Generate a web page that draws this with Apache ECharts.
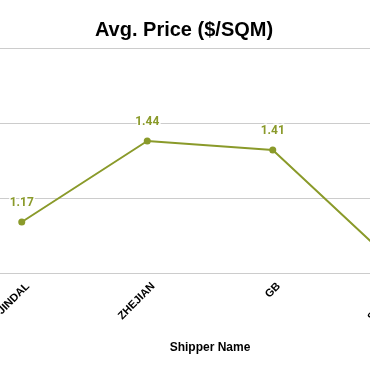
<!DOCTYPE html>
<html><head><meta charset="utf-8">
<script src="https://cdn.jsdelivr.net/npm/echarts@6/dist/echarts.min.js"></script>
<style>html,body{margin:0;padding:0;overflow:hidden;background:#fff;width:370px;height:371px;position:relative}
#c{position:absolute;left:-100px;top:0;width:568px;height:371px}</style>
</head><body><div id="c"></div>
<script>
const categories = ["JINDAL", "ZHEJIAN", "GB", "SUNRISE"];
const avgPrice = [1.17, 1.44, 1.41, 1.02];
const yTicks = [1.0, 1.25, 1.5, 1.75];

const chart = echarts.init(document.getElementById('c'), null, {renderer: 'canvas'});
chart.setOption({
  animation: false,
  title: {
    text: 'Avg. Price ($/SQM)', left: 'center', top: 15,
    textStyle: {fontFamily: 'Liberation Sans, Arial, sans-serif', fontWeight: 'bold', fontSize: 20, color: '#000'}
  },
  grid: {left: 59, right: 7, top: 48, bottom: 98, containLabel: false},
  xAxis: {
    type: 'category', data: categories, boundaryGap: true,
    name: 'Shipper Name', nameLocation: 'middle', nameGap: 69,
    nameTextStyle: {fontFamily: 'Liberation Sans, Arial, sans-serif', fontWeight: 'bold', fontSize: 12, color: '#000'},
    axisLine: {show: true, lineStyle: {color: '#ccc'}},
    axisTick: {show: false},
    axisLabel: {rotate: 45, margin: 5.5, verticalAlign: 'top', lineHeight: 17, fontFamily: 'Liberation Sans, Arial, sans-serif', fontWeight: 'bold', fontSize: 11, color: '#000'}
  },
  yAxis: {
    type: 'value', min: yTicks[0], max: yTicks[yTicks.length - 1], interval: 0.25,
    axisLabel: {show: false}, axisLine: {show: false}, axisTick: {show: false},
    splitLine: {lineStyle: {color: '#ccc', width: 1}}
  },
  series: [{
    type: 'line', data: avgPrice,
    symbol: 'circle', symbolSize: 7,
    lineStyle: {color: '#8a9a2a', width: 2},
    itemStyle: {color: '#8a9a2a'},
    label: {
      show: true, position: 'top', distance: 10,
      fontFamily: 'Roboto, sans-serif', fontWeight: 'bold', fontSize: 12, color: '#8a9a2a',
      textBorderColor: '#fff', textBorderWidth: 3,
      formatter: p => p.value.toFixed(2)
    }
  }]
});
</script></body></html>
